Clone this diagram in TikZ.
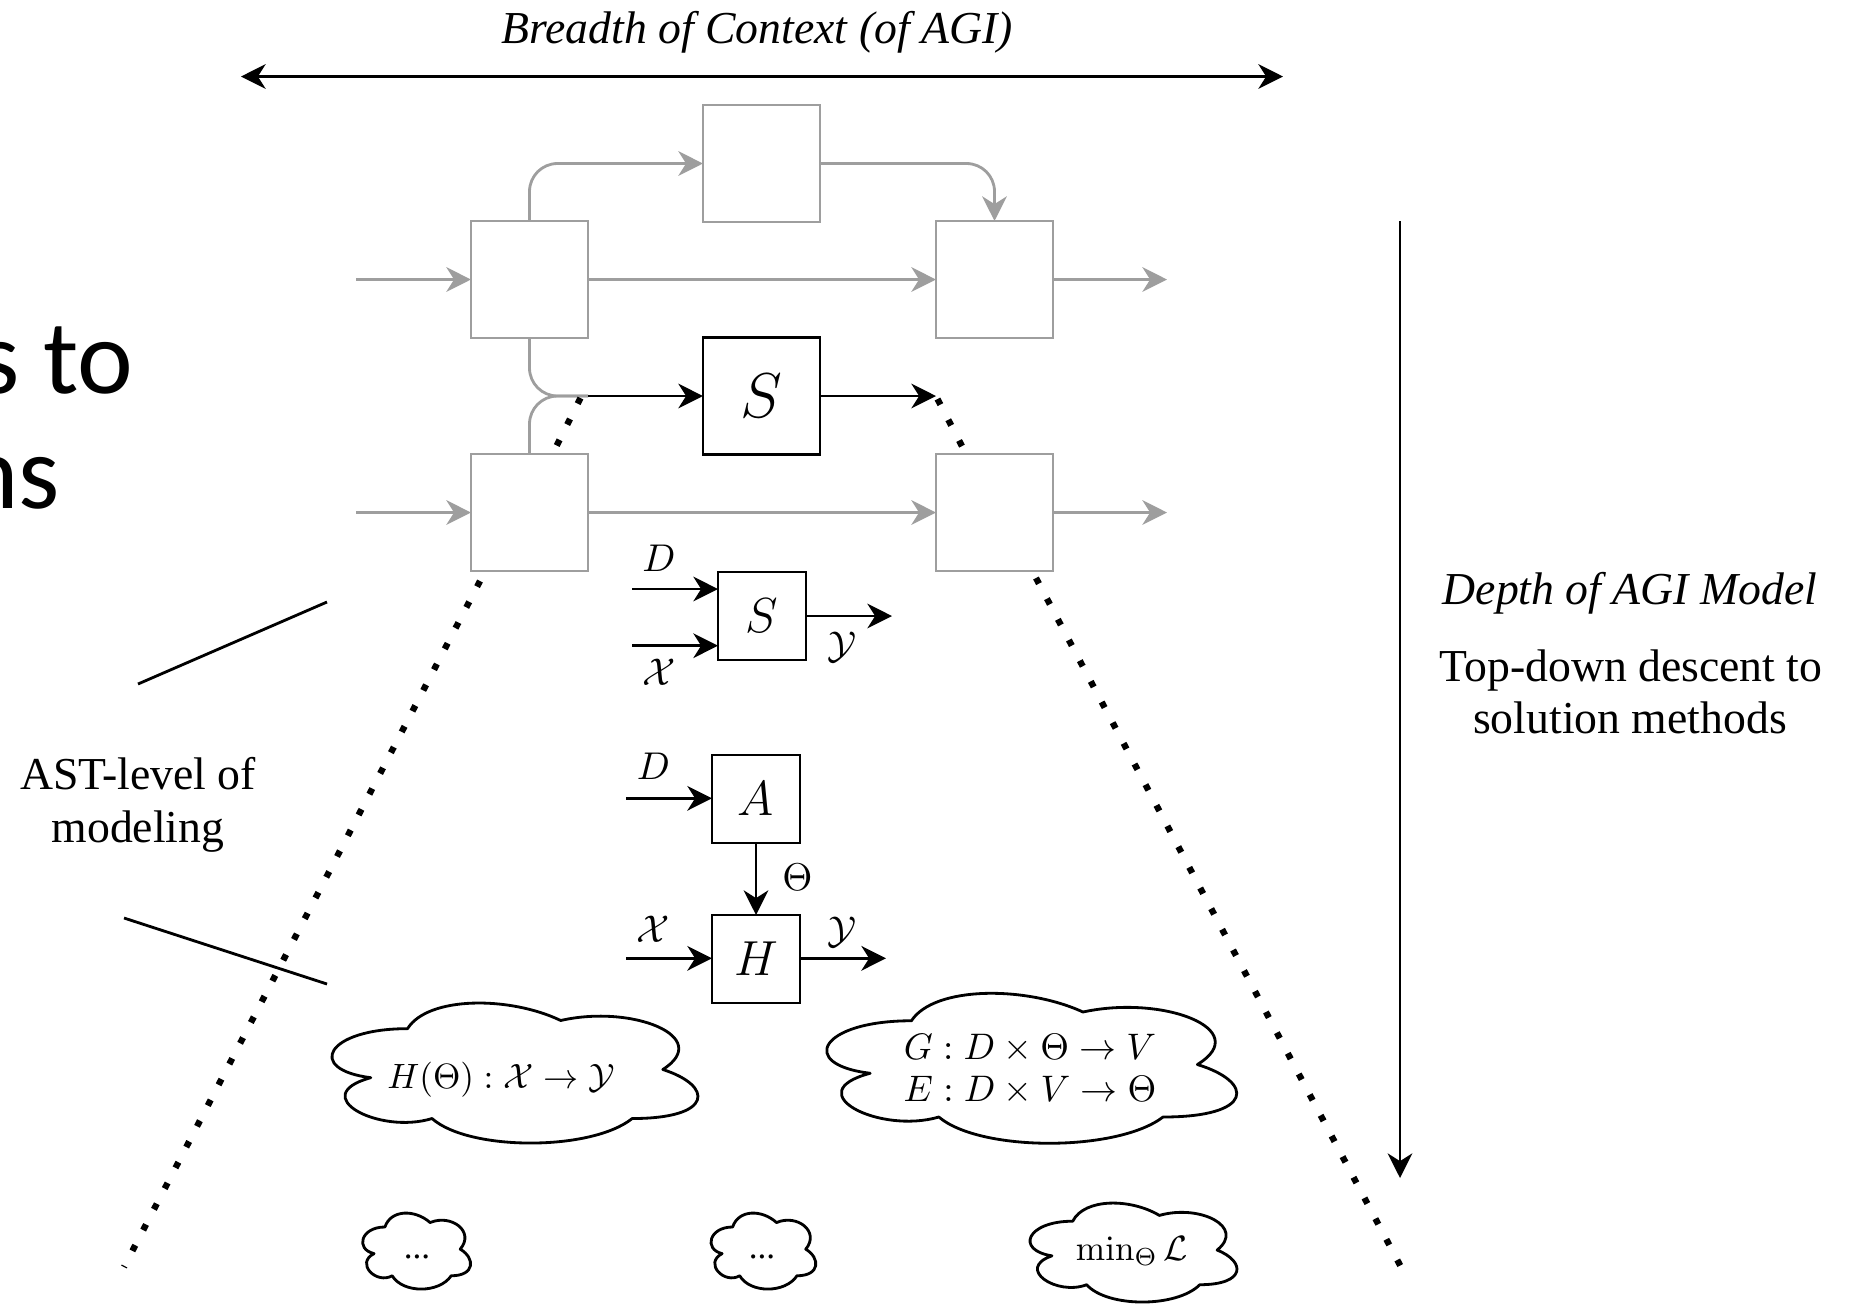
\RequirePackage{fix-cm}
\documentclass[tikz,border=0pt]{standalone}
\usepackage[no-math]{fontspec}
\setmainfont{Liberation Serif}
\newfontfamily\slidefont{Carlito}
\usetikzlibrary{arrows.meta}
\definecolor{boxgray}{RGB}{158,158,158}

% draw.io-like cloud outline inside the box (x,y,w,h)
\newcommand\cloudoutline[4]{%
  \draw[cloudstroke, shift={(#1,#2)}, xscale=#3, yscale=#4]
    (0.25,0.25) .. controls (0.05,0.25) and (0,0.5) .. (0.16,0.55)
    .. controls (0,0.66) and (0.18,0.9) .. (0.31,0.8)
    .. controls (0.4,1) and (0.7,1) .. (0.8,0.8)
    .. controls (1,0.8) and (1,0.6) .. (0.875,0.5)
    .. controls (1,0.3) and (0.8,0.1) .. (0.625,0.2)
    .. controls (0.5,0.05) and (0.3,0.05) .. (0.25,0.25) -- cycle;}

\tikzset{
  gbox/.style={draw=boxgray, line width=0.8pt, minimum width=1.17cm,
    minimum height=1.17cm, inner sep=0pt, outer sep=0pt},
  kbox/.style={draw=black, line width=0.8pt, minimum width=1.17cm,
    minimum height=1.17cm, inner sep=0pt, outer sep=0pt,
    font=\fontsize{18}{20}\selectfont},
  sbox/.style={draw=black, line width=0.8pt, minimum width=0.88cm,
    minimum height=0.88cm, inner sep=0pt, outer sep=0pt,
    font=\fontsize{14}{16}\selectfont},
  glink/.style={draw=boxgray, line width=0.8pt},
  garrow/.style={glink, ->},
  karrow/.style={draw=black, line width=0.8pt, ->},
  plainline/.style={draw=black, line width=0.8pt},
  dotline/.style={draw=black, line width=1.8pt, dash pattern=on 1.8pt off 4.85pt},
  lbl/.style={inner sep=0pt, font=\fontsize{11}{13}\selectfont},
  capt/.style={inner sep=0pt, anchor=base, font=\fontsize{13}{15}\selectfont},
  capti/.style={capt, font=\fontsize{13}{15}\selectfont\itshape},
  slidetext/.style={inner sep=0pt, anchor=base east,
    font=\slidefont\fontsize{30}{36}\selectfont},
  cloudstroke/.style={draw=black, line width=0.8pt, line join=round},
  ctext/.style={inner sep=0pt, font=\fontsize{10}{12}\selectfont, align=center},
}

\begin{document}
\begin{tikzpicture}[x=0.01cm, y=-0.01cm,
  >={Stealth[length=7pt,width=7pt,inset=2.2pt]}]
\useasboundingbox (0,0) rectangle (1851,1305);
\clip (0,0) rectangle (1851,1305);

% slide text running in from the left
\node[slidetext] (slideA) at (134,393) {s to};
\node[slidetext] (slideB) at (60.5,508) {ns};

% breadth axis
\node[capti] (breadth) at (757,43) {Breadth of Context (of AGI)};
\coordinate (bl) at (241,76.5);
\coordinate (br) at (1283,76.5);
\draw[plainline, <->] (bl) -- (br);

% context graph
\node[gbox] (T)  at (761.5,163.5) {};
\node[gbox] (B1) at (529.5,279.5) {};
\node[gbox] (B2) at (994.5,279.5) {};
\node[kbox] (S)  at (761.5,396) {$S$};
\node[gbox] (B3) at (529.5,512.5) {};
\node[gbox] (B4) at (994.5,512.5) {};

\coordinate (in1)  at (356,279.5);
\coordinate (out1) at (1167,279.5);
\coordinate (in2)  at (356,512.5);
\coordinate (out2) at (1167,512.5);
\coordinate (J)    at (588,396);
\coordinate (Send) at (936,396);

\draw[garrow] (in1) -- (B1.west);
\draw[garrow] (B1.east) -- (B2.west);
\draw[garrow] (B2.east) -- (out1);
\draw[garrow] (in2) -- (B3.west);
\draw[garrow] (B3.east) -- (B4.west);
\draw[garrow] (B4.east) -- (out2);
\draw[garrow, rounded corners=0.28cm] (B1.north) |- (T.west);
\draw[garrow, rounded corners=0.28cm] (T.east) -| (B2.north);
\draw[glink, rounded corners=0.28cm] (B1.south) |- (J);
\draw[glink, rounded corners=0.28cm] (B3.north) |- (J);
\draw[karrow] (J) -- (S.west);
\draw[karrow] (S.east) -- (Send);

% zoom-in guides
\coordinate (zl1) at (580.5,398);
\coordinate (zl2) at (556,447);
\coordinate (zr1) at (937.5,399);
\coordinate (zr2) at (964,450);
\coordinate (zl3) at (480,581);
\coordinate (zl4) at (124,1267);
\coordinate (zr3) at (1036,578);
\coordinate (zr4) at (1401,1267);
\draw[dotline] (zl1) -- (zl2);
\draw[dotline] (zr1) -- (zr2);
\draw[dotline] (zl3) -- (zl4);
\draw[dotline] (zr3) -- (zr4);

% depth axis
\coordinate (dtop) at (1400,221);
\coordinate (dbot) at (1400,1178);
\draw[karrow] (dtop) -- (dbot);
\node[capti] (depth) at (1630,604) {Depth of AGI Model};
\node[capt] (desc1) at (1631,681) {Top-down descent to};
\node[capt] (desc2) at (1630,733) {solution methods};

% AST-level bracket
\node[capt] (ast1) at (138,789) {AST-level of};
\node[capt] (ast2) at (138,842) {modeling};
\coordinate (ua) at (138,684);
\coordinate (ub) at (327,602);
\coordinate (la) at (124,918);
\coordinate (lb) at (327,984);
\draw[plainline] (ua) -- (ub);
\draw[plainline] (la) -- (lb);

% solver S
\node[sbox] (Ss) at (762,616) {$S$};
\coordinate (sD) at (632,589);
\coordinate (sX) at (632,645.7);
\coordinate (sY) at (892,616);
\draw[karrow] (sD) -- (sD -| Ss.west);
\draw[karrow] (sX) -- (sX -| Ss.west);
\draw[karrow] (Ss.east) -- (sY);
\node[lbl] (sDl) at (659,558.3) {$D$};
\node[lbl] (sXl) at (659,672.5) {$\mathcal{X}$};
\node[lbl] (sYl) at (842.5,646.7) {$\mathcal{Y}$};

% learner A and hypothesis H
\node[sbox] (A) at (756,799) {$A$};
\node[sbox] (H) at (756,959) {$H$};
\coordinate (aD) at (626,798.3);
\coordinate (hX) at (626,958.3);
\coordinate (hY) at (886,958.3);
\draw[karrow] (aD) -- (aD -| A.west);
\draw[karrow] (A.south) -- (H.north);
\draw[karrow] (hX) -- (hX -| H.west);
\draw[karrow] (hX -| H.east) -- (hY);
\node[lbl] (aDl) at (653.3,766.7) {$D$};
\node[lbl] (thl) at (797.5,877.5) {$\Theta$};
\node[lbl] (hXl) at (653.3,929) {$\mathcal{X}$};
\node[lbl] (hYl) at (842.5,931.7) {$\mathcal{Y}$};

% method clouds
\cloudoutline{305.4}{987.8}{408.5}{163.4}
\node[ctext] (c1) at (501,1080) {$H(\Theta) : \mathcal{X} \to \mathcal{Y}$};
\cloudoutline{797}{977}{457.6}{175}
\node[ctext, font=\fontsize{10.5}{12}\selectfont] (c2) at (1030,1069)
  {$G : D \times \Theta \to V$\\$E : D \times V \to \Theta$};
\cloudoutline{354.8}{1204.8}{120.5}{88.7}
\node[ctext] (c3) at (417,1257) {...};
\cloudoutline{703.4}{1204.8}{117}{88.7}
\node[ctext] (c4) at (762,1257) {...};
\cloudoutline{1015}{1192.3}{231}{115.5}
\node[ctext] (c5) at (1132,1251) {$\min_\Theta \mathcal{L}$};
\end{tikzpicture}
\end{document}
